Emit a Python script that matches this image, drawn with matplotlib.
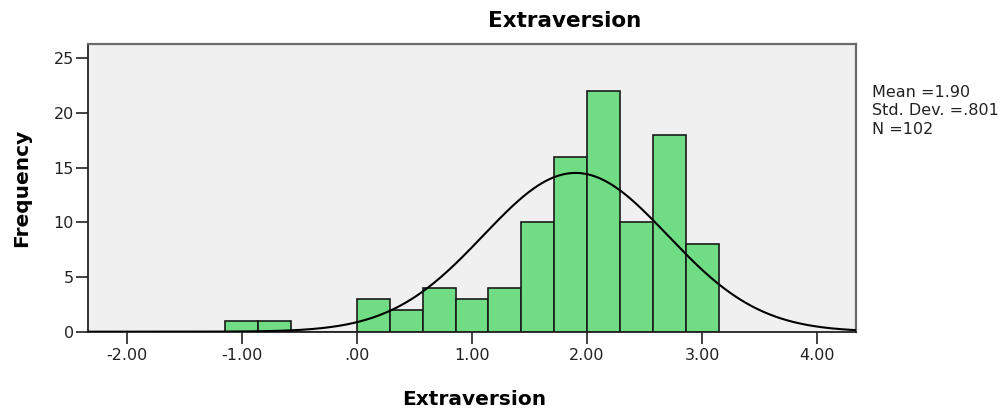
import numpy as np
import matplotlib
matplotlib.use("Agg")
import matplotlib.pyplot as plt

# Histogram of Extraversion scores
bin_width = 2 / 7
first_edge = -4 * bin_width
counts = [1, 1, 0, 0, 3, 2, 4, 3, 4, 10, 16, 22, 10, 18, 8]
mean_val = 1.90
sd_val = 0.801
n_val = 102
x_ticks = [-2, -1, 0, 1, 2, 3, 4]
x_tick_labels = ["-2.00", "-1.00", ".00", "1.00", "2.00", "3.00", "4.00"]
y_ticks = [0, 5, 10, 15, 20, 25]

W, H = 1003, 411
fig = plt.figure(figsize=(W / 100, H / 100), dpi=100)
ax = fig.add_axes([88.3 / W, 1 - 331.7 / H, (856 - 88.3) / W, (331.7 - 44) / H])
ax.set_facecolor("#F0F0F0")

edges = first_edge + bin_width * np.arange(len(counts) + 1)
ax.bar(edges[:-1], counts, width=bin_width, align="edge",
       color="#70DC84", edgecolor="#1a1a1a", linewidth=1.2, zorder=2)

xlim = (-2.334, 4.337)
xs = np.linspace(xlim[0], xlim[1], 600)
pdf = n_val * bin_width / (sd_val * np.sqrt(2 * np.pi)) * np.exp(-0.5 * ((xs - mean_val) / sd_val) ** 2)
ax.plot(xs, pdf, color="black", linewidth=1.5, zorder=3)

ax.set_xlim(*xlim)
ax.set_ylim(0, 26.3)
ax.set_xticks(x_ticks)
ax.set_xticklabels(x_tick_labels, fontsize=11.5, color="#222222")
ax.set_yticks(y_ticks)
ax.set_yticklabels([str(v) for v in y_ticks], fontsize=11.5, color="#222222")
ax.tick_params(axis="x", direction="out", length=8.5, width=1.2, color="#222222", pad=3)
ax.tick_params(axis="y", direction="out", length=8.5, width=1.2, color="#222222", pad=2)

for side in ["left", "bottom"]:
    ax.spines[side].set_color("#222222")
    ax.spines[side].set_linewidth(1.3)
for side in ["top", "right"]:
    ax.spines[side].set_color("#6a6a6a")
    ax.spines[side].set_linewidth(1.6)

fig.text(564.5 / W, 1 - 27 / H, "Extraversion", fontsize=15.5, fontweight="bold",
         ha="center", va="baseline")
fig.text(474 / W, 1 - 405 / H, "Extraversion", fontsize=14.5, fontweight="bold",
         ha="center", va="baseline")
fig.text(12 / W, 1 - 187.5 / H, "Frequency", fontsize=14.5, fontweight="bold",
         rotation=90, ha="left", va="center")

stats_lines = [f"Mean ={mean_val:.2f}", "Std. Dev. =.801", f"N ={n_val}"]
for line, base_y in zip(stats_lines, [97, 115, 134]):
    fig.text(872 / W, 1 - base_y / H, line, fontsize=11.5, va="baseline", color="#222222")

fig.savefig("out.png", dpi=100)
